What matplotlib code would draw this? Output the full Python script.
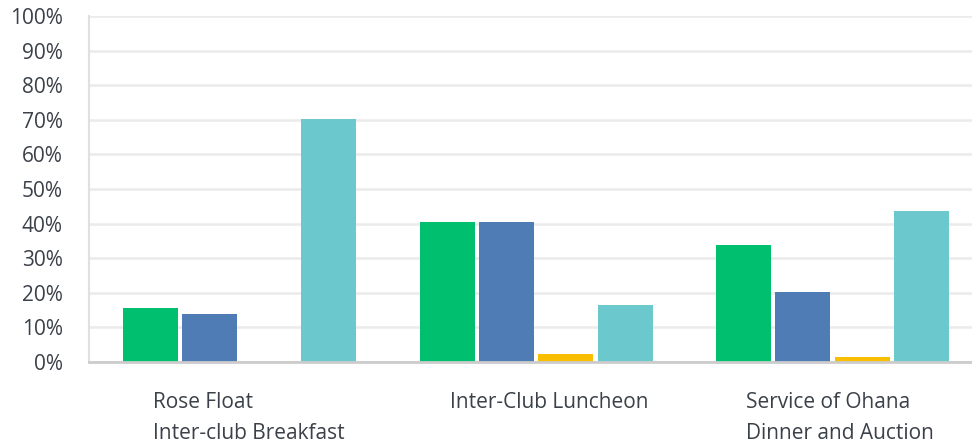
import numpy as np
import matplotlib.pyplot as plt
from matplotlib.ticker import MultipleLocator, PercentFormatter

# values (percent)
categories = ["Rose Float\nInter-club Breakfast", "Inter-Club Luncheon",
              "Service of Ohana\nDinner and Auction"]
series_names = ["Series 1", "Series 2", "Series 3", "Series 4"]
series_1 = [15.5, 40.3, 33.9]
series_2 = [13.8, 40.3, 20.3]
series_3 = [0.0, 2.3, 1.4]
series_4 = [70.3, 16.5, 43.5]
colors = ["#00bf6f", "#507cb6", "#f9be00", "#6bc8cd"]

plt.rcParams['font.family'] = ['Open Sans', 'DejaVu Sans']
text_color = "#3b4148"

fig = plt.figure(figsize=(9.72, 4.43), dpi=100)
ax = fig.add_axes([0.0916, 0.183, 0.9084, 0.781])

x = np.arange(len(categories))
step = 0.2
width = 0.1855
for i, (vals, name) in enumerate(zip([series_1, series_2, series_3, series_4], series_names)):
    ax.bar(x + (i - 1.5) * step, vals, width=width, color=colors[i], label=name, zorder=3)

ax.set_xlim(-0.5076, 2.470)
ax.set_ylim(0, 100)
ax.yaxis.set_major_locator(MultipleLocator(10))
ax.yaxis.set_major_formatter(PercentFormatter(decimals=0))
ax.grid(axis='y', color='#ebebeb', linewidth=1.8, zorder=0)
ax.set_xticks(x - 0.292)
ax.set_xticklabels(categories, ha='left', multialignment='left', linespacing=1.6)

ax.tick_params(axis='both', length=0, labelsize=15, colors=text_color)
ax.tick_params(axis='x', pad=22)
ax.tick_params(axis='y', pad=19)

for s in ['top', 'right']:
    ax.spines[s].set_visible(False)
ax.spines['left'].set_color('#e0e0e0')
ax.spines['left'].set_linewidth(1.5)
ax.spines['bottom'].set_color('#cccccc')
ax.spines['bottom'].set_linewidth(2)
ax.spines['bottom'].set_zorder(4)

fig.savefig('out.png', dpi=100)
